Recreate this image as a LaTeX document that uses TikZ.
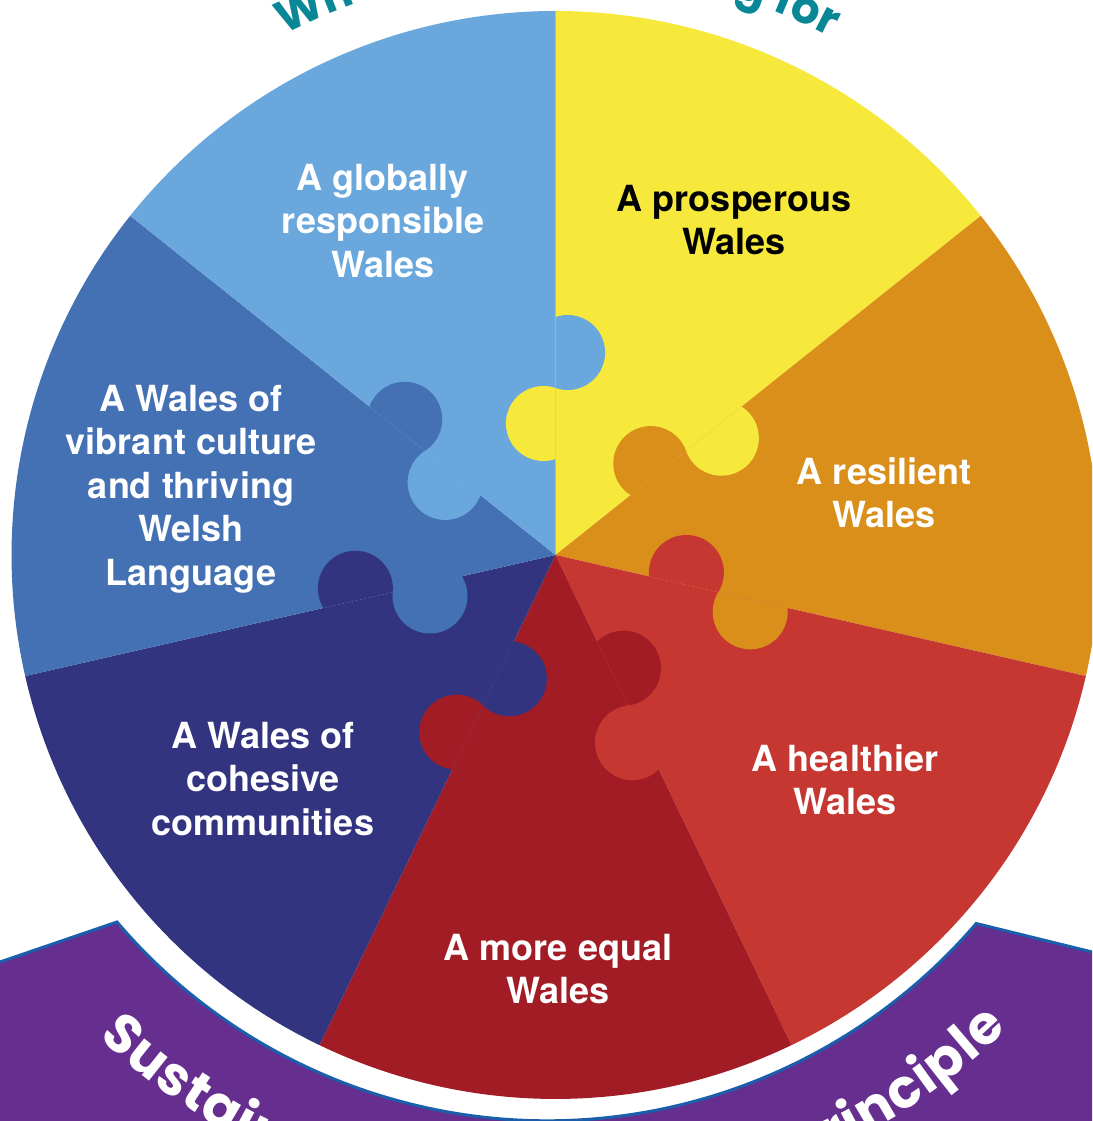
\documentclass[tikz,border=0pt]{standalone}
\usepackage{fontspec}
\setmainfont{TeX Gyre Heros}
\newfontfamily\roundfont{Poppins}
\usetikzlibrary{decorations.text}

\definecolor{goalYellow}{HTML}{F6E93C}
\definecolor{goalOrange}{HTML}{DA8F1B}
\definecolor{goalRed}{HTML}{C63731}
\definecolor{goalDarkRed}{HTML}{A21C26}
\definecolor{goalNavy}{HTML}{323480}
\definecolor{goalBlue}{HTML}{4470B4}
\definecolor{goalLightBlue}{HTML}{69A7DC}
\definecolor{bandPurple}{HTML}{652E8F}
\definecolor{bandEdge}{HTML}{1B5EAB}
\definecolor{titleTeal}{HTML}{0A8797}

\newcommand\topFont{\roundfont\bfseries\fontsize{45}{45}\selectfont}
\newcommand\bottomFont{\roundfont\bfseries\fontsize{54}{54}\selectfont}

\begin{document}
\begin{tikzpicture}[x=1pt, y=1pt,
    goalText/.style = {align=center, text=white, font=\bfseries\fontsize{36}{43.5}\selectfont}]
        \useasboundingbox (0,0) rectangle (1092,1121);
        \clip (0,0) rectangle (1092,1121);
        \fill[white] (0,0) rectangle (1092,1121);

        \coordinate (centre) at (555.5,566);
        \coordinate (bandCentre) at (548.5,566);

        % purple band round the bottom
        \fill[bandPurple] (0,159) -- (117,199) arc[start angle=220.4, end angle=319.4, radius=565] -- (1092,169) -- (1092,0) -- (0,0) -- cycle;
        \draw[bandEdge, line width=3] (0,159) -- (117,199) arc[start angle=220.4, end angle=319.4, radius=565] -- (1092,169);

        % the seven pieces
        \foreach \col [count=\k from 0] in {goalYellow, goalOrange, goalRed, goalDarkRed, goalNavy, goalBlue, goalLightBlue}
            \fill[\col] (centre) -- ++(90-\k*360/7:544) arc[start angle=90-\k*360/7, end angle=90-(\k+1)*360/7, radius=544] -- cycle;

        % puzzle knobs on each edge
        \foreach \col/\prev [count=\k from 0] in {goalYellow/goalLightBlue, goalOrange/goalYellow, goalRed/goalOrange, goalDarkRed/goalRed, goalNavy/goalDarkRed, goalBlue/goalNavy, goalLightBlue/goalBlue}
        {
            \begin{scope}[shift={(centre)}, rotate=90-\k*360/7]
                \fill[\col] (96,0) arc[start angle=198.8, end angle=-18.8, radius=37.5] -- cycle;
                \fill[\prev] (167,0) arc[start angle=161.2, end angle=378.8, radius=37.5] -- cycle;
            \end{scope}
        }

        \node[goalText, text=black] (prosperousNode) at (734,901) {A prosperous\\Wales};
        \node[goalText] (resilientNode) at (884,628) {A resilient\\Wales};
        \node[goalText] (healthierNode) at (845,341) {A healthier\\Wales};
        \node[goalText] (equalNode) at (558,152) {A more equal\\Wales};
        \node[goalText] (cohesiveNode) at (263,342) {A Wales of\\cohesive\\communities};
        \node[goalText] (cultureNode) at (191,632) {A Wales of\\vibrant culture\\and thriving\\Welsh\\Language};
        \node[goalText] (globalNode) at (383,900) {A globally\\responsible\\Wales};

        % curved titles
        \coordinate (topStart) at ([shift={(centre)}]117.5:586);
        \coordinate (bottomStart) at ([shift={(bandCentre)}]227:660);
        \path[decorate, decoration={text along path, text color=titleTeal, text align={fit to path}, text={|\topFont|What are we working for}}]
            (topStart) arc[start angle=117.5, end angle=62, radius=586];
        \path[decorate, decoration={text along path, text color=white, text align={fit to path}, text={|\bottomFont|Sustainable Development Principle}}]
            (bottomStart) arc[start angle=227, end angle=314, radius=660];
\end{tikzpicture}
\end{document}
